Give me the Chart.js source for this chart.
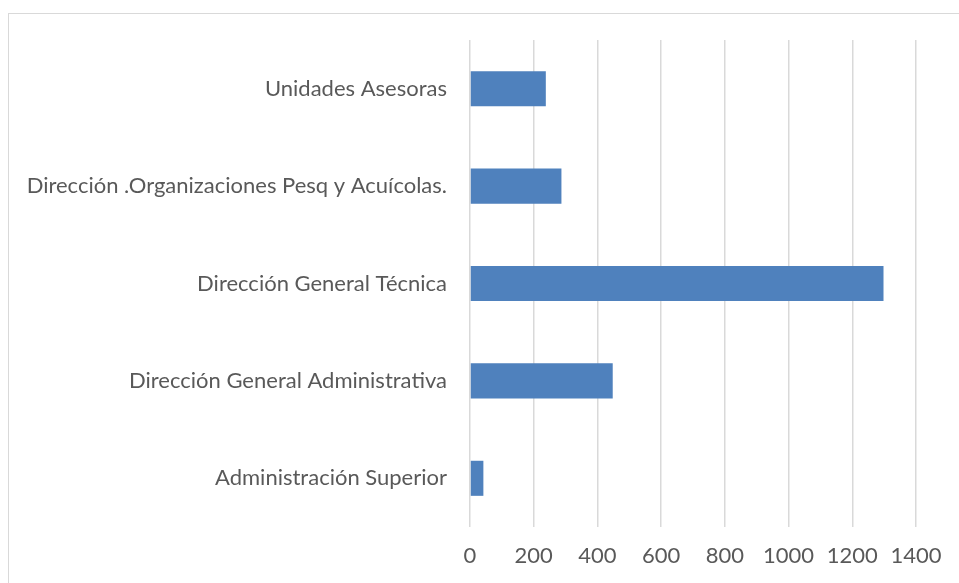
<!DOCTYPE html>
<html>
<head>
<meta charset="utf-8">
<script src="https://cdn.jsdelivr.net/npm/chart.js@4/dist/chart.umd.min.js"></script>
<style>
  html, body { margin: 0; padding: 0; background: #fff; overflow: hidden; }
  #frame { position: absolute; left: 8px; top: 13px; width: 1200px; height: 1000px; border: 1px solid #d9d9d9; }
  #wrap { position: absolute; left: 0; top: 0; width: 959px; height: 583px; }
</style>
</head>
<body>
<div id="frame"></div>
<div id="wrap"><canvas id="barChart"></canvas></div>
<script>
let categories = [
  "Unidades Asesoras",
  "Dirección .Organizaciones Pesq y Acuícolas.",
  "Dirección General Técnica",
  "Dirección General Administrativa",
  "Administración Superior"
];
let values = [238, 287, 1298, 448, 42];
let xTicks = [0, 200, 400, 600, 800, 1000, 1200, 1400];

let ctx = document.getElementById("barChart");

let chart = new Chart(ctx, {
  type: "bar",
  data: {
    labels: categories,
    datasets: [{
      data: values,
      backgroundColor: "#4f81bd",
      borderWidth: 0,
      barPercentage: 0.6,
      categoryPercentage: 0.6
    }]
  },
  options: {
    indexAxis: "y",
    responsive: true,
    maintainAspectRatio: false,
    animation: false,
    layout: { padding: { top: 40, right: 43, bottom: 0, left: 8 } },
    plugins: {
      legend: { display: false },
      tooltip: { enabled: false }
    },
    scales: {
      x: {
        min: 0,
        max: 1400,
        afterBuildTicks: scale => {
          scale.ticks = xTicks.map(v => ({ value: v }));
        },
        afterFit: scale => { scale.height = 56; },
        grid: { color: "#d9d9d9", lineWidth: 1.5, drawTicks: false },
        border: { display: false },
        ticks: {
          padding: 16,
          color: "#595959",
          font: { family: "Lato", size: 22 },
          callback: v => String(v)
        }
      },
      y: {
        afterFit: scale => { scale.width = 462; },
        grid: { display: false },
        border: { display: false },
        ticks: {
          padding: 15,
          color: "#595959",
          font: { family: "Lato", size: 22 }
        }
      }
    }
  }
});
</script>
</body>
</html>
